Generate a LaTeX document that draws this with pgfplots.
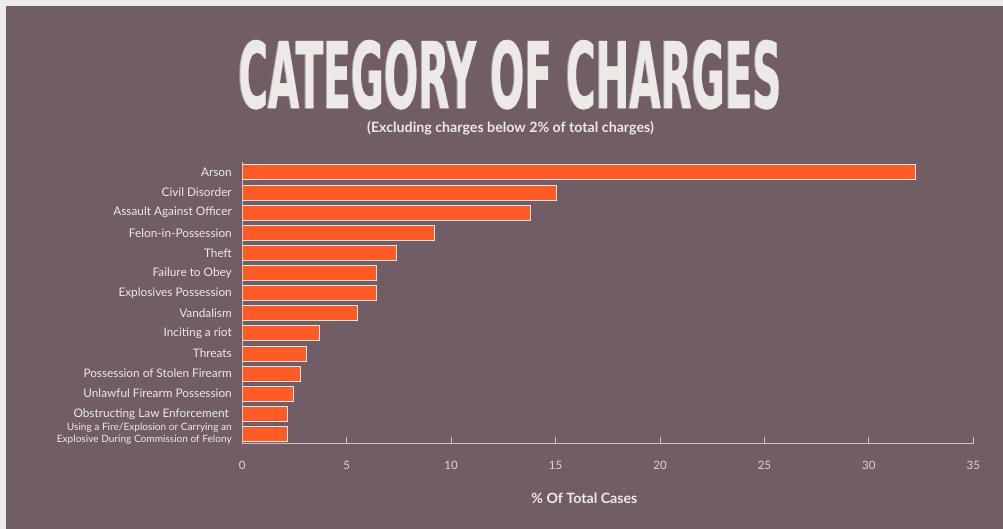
\documentclass[border=0pt]{standalone}
\usepackage{pgfplots}
\pgfplotsset{compat=1.18}
\usepackage{fontspec}
\setmainfont{Lato}
\newfontfamily\titlefont{DejaVu Sans Condensed Bold}[FakeBold=0.6]
\definecolor{bg}{HTML}{705D66}
\definecolor{edge}{HTML}{EDEBE8}
\definecolor{barc}{HTML}{FF5B27}
\definecolor{barline}{HTML}{EDE3DF}
\definecolor{txt}{HTML}{EDE9E7}
\definecolor{ticktxt}{HTML}{DCD5D7}
\definecolor{axisc}{HTML}{CBC4C6}
\definecolor{shadow}{HTML}{A89FA1}
\begin{document}
\begin{tikzpicture}[x=1pt,y=1pt]
\useasboundingbox (0,0) rectangle (1003,529);
\fill[edge] (0,0) rectangle (1003,529);
\fill[bg] (6,0) rectangle (1003,523);
\node[anchor=base, inner sep=0, text=shadow] at (509,421) {\resizebox{543pt}{68pt}{\titlefont CATEGORY OF CHARGES}};
\node[anchor=base, inner sep=0, text=txt] at (510,421) {\resizebox{543pt}{68pt}{\titlefont CATEGORY OF CHARGES}};
\node[anchor=center, inner sep=0, text=txt, font=\bfseries\fontsize{14.2}{16}\selectfont] at (510.5,401) {(Excluding charges below 2\% of total charges)};
\begin{axis}[
  at={(242.3pt,85pt)}, anchor=south west,
  scale only axis, width=731pt, height=281.7pt,
  xbar, bar width=15pt,
  xmin=0, xmax=35, ymin=-0.5, ymax=13.5,
  axis x line*=bottom, axis y line*=left,
  axis line style={draw=axisc, line width=1pt},
  xtick={0,5,...,35},
  tick align=inside, major tick length=7pt,
  x tick style={draw=axisc, line width=0.8pt},
  y tick style={draw=none},
  ytick={0,...,13},
  yticklabels={{\fontsize{10.1}{12.2}\selectfont\begin{tabular}{@{}r@{}}Using a Fire/Explosion or Carrying an\\Explosive During Commission of Felony\end{tabular}},
    {Obstructing Law Enforcement\hspace*{3pt}},
    {Unlawful Firearm Possession},
    {Possession of Stolen Firearm},
    {Threats},
    {Inciting a riot},
    {Vandalism},
    {Explosives Possession},
    {Failure to Obey},
    {Theft},
    {Felon-in-Possession},
    {Assault Against Officer},
    {Civil Disorder},
    {Arson}},
  yticklabel style={text=txt, font=\fontsize{11.8}{11.5}\selectfont, xshift=-7pt},
  xticklabel style={text=ticktxt, font=\fontsize{11.5}{13}\selectfont, yshift=-14pt},
  /pgf/number format/assume math mode=true,
  xlabel={\% Of Total Cases},
  xlabel style={at={(axis description cs:0.468,0)}, anchor=center, yshift=-54pt, text=txt, font=\bfseries\fontsize{14.2}{16}\selectfont},
]
\addplot[fill=barc, draw=barline, line width=0.8pt] coordinates {
 (2.16,0) (2.16,1) (2.44,2) (2.76,3) (3.08,4) (3.69,5) (5.53,6)
 (6.44,7) (6.44,8) (7.36,9) (9.21,10) (13.81,11) (15.06,12) (32.25,13)
};
\end{axis}
\end{tikzpicture}
\end{document}
